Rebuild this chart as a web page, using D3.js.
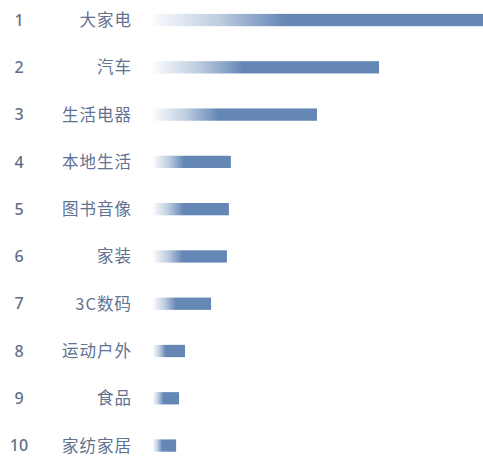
<!DOCTYPE html>
<html><head><meta charset="utf-8">
<script src="https://cdn.jsdelivr.net/npm/d3@7/dist/d3.min.js"></script>
<style>html,body{margin:0;padding:0;background:#fff;overflow:hidden}</style>
</head><body>
<svg id="c" width="483" height="456"></svg>
<script>
const ranks = [1,2,3,4,5,6,7,8,9,10];
const categories = ["大家电","汽车","生活电器","本地生活","图书音像","家装","3C数码","运动户外","食品","家纺家居"];
const values = [100, 68.5, 49.7, 23.6, 23.0, 22.4, 17.6, 9.7, 7.9, 7.0];

const svg = d3.select("#c");
const x = d3.scaleLinear().domain([0, 100]).range([153, 483]);
const y = d3.scaleBand().domain(categories).range([-3.6, 469.2]).paddingInner(0.74).paddingOuter(0.37);

const defs = svg.append("defs");
const g = defs.append("linearGradient").attr("id","grad").attr("x1","0").attr("x2","1").attr("y1","0").attr("y2","0");
g.append("stop").attr("offset","0").attr("stop-color","#6487b6").attr("stop-opacity",0.03);
g.append("stop").attr("offset","0.2").attr("stop-color","#6487b6").attr("stop-opacity",0.42);
g.append("stop").attr("offset","0.4").attr("stop-color","#6487b6").attr("stop-opacity",1);
g.append("stop").attr("offset","1").attr("stop-color","#6487b6").attr("stop-opacity",1);

svg.selectAll("rect.bar").data(categories).join("rect")
  .attr("class","bar")
  .attr("x", x(0))
  .attr("y", d => y(d))
  .attr("height", y.bandwidth())
  .attr("width", (d,i) => x(values[i]) - x(0))
  .attr("fill","url(#grad)");

const cy = d => y(d) + y.bandwidth()/2;

svg.selectAll("text.rank").data(categories).join("text")
  .attr("class","rank")
  .attr("x", 19).attr("y", d => cy(d)).attr("dy","0.36em")
  .attr("text-anchor","middle")
  .attr("font-family","'Noto Sans', 'Noto Sans CJK SC', sans-serif")
  .attr("font-size",16).attr("font-weight",500)
  .attr("fill","#5f6f89")
  .text((d,i) => ranks[i]);

svg.selectAll("text.cat").data(categories).join("text")
  .attr("class","cat")
  .attr("x", 132).attr("y", d => cy(d)).attr("dy","0.36em")
  .attr("text-anchor","end")
  .attr("font-family","'Noto Sans CJK SC', sans-serif")
  .attr("font-size",16.5)
  .style("letter-spacing","1px")
  .attr("fill","#627290")
  .text(d => d);
</script>
</body></html>
